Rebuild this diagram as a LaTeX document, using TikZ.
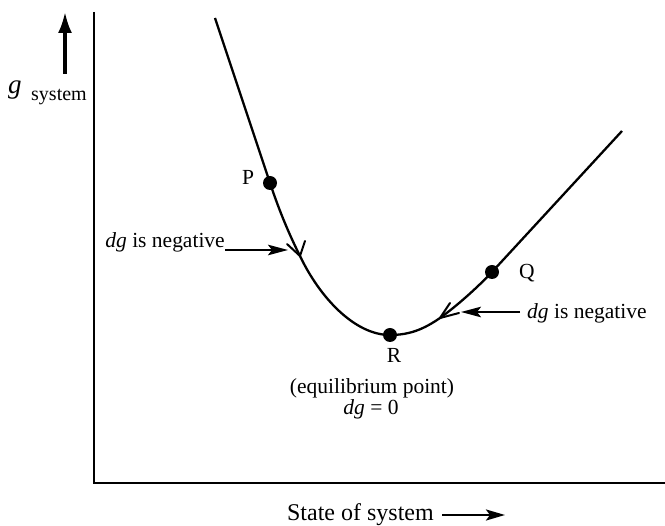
\documentclass[tikz,border=0pt]{standalone}
\usepackage{fontspec}
\setmainfont{Liberation Serif}
\usetikzlibrary{arrows.meta,calc}
\begin{document}
\begin{tikzpicture}[x=1pt,y=-1pt,
  axisline/.style={line width=1.6pt},
  curveline/.style={line width=2.3pt, line join=round},
  barbline/.style={line width=2pt, line join=miter, line cap=round},
  ptr/.style={line width=2.2pt,-{Stealth[length=20pt,width=10.5pt,inset=4pt]}},
  dot/.style={circle,fill,inner sep=0pt,minimum size=14pt},
  lab/.style={inner sep=0pt,font=\fontsize{21.5}{21.5}\selectfont},
]
\useasboundingbox (0,0) rectangle (665,526);
% axes
\coordinate (ytop) at (94,12);
\coordinate (orig) at (94,483);
\coordinate (xend) at (665,483);
\draw[axisline] (ytop) -- (orig) -- (xend);
% vertical axis arrow and label
\coordinate (ua1) at (65,74);
\coordinate (ua2) at (65,12);
\draw[line width=3.2pt,-{Latex[length=21pt,width=14pt]}] (ua1) -- (ua2);
\node[inner sep=0pt,anchor=base west,font=\fontsize{27}{27}\selectfont\itshape] (glab) at (8,94) {g};
\node[inner sep=0pt,anchor=base west,font=\fontsize{20}{20}\selectfont] (syslab) at (31,101) {system};
% curve
\coordinate (S) at (215,18);
\coordinate (pP) at (270,183);
\coordinate (A1) at (300,256);
\coordinate (pR) at (390,335);
\coordinate (A2) at (440,318);
\coordinate (pQ) at (492,272);
\coordinate (E) at (622,131);
\draw[curveline] (S) -- (pP) .. controls (280,213) and (290,236) .. (A1)
  .. controls (320,298) and (355,335) .. (pR)
  .. controls (410,335) and (424,329) .. (A2)
  .. controls (456,306.5) and (476,289) .. (pQ) -- (E);
% open arrowheads on the curve
\coordinate (b1a) at (287,244);
\coordinate (b1b) at (305,241);
\draw[barbline] (b1a) -- (A1) -- (b1b);
\coordinate (b2a) at (450,303);
\coordinate (b2b) at (459,313);
\draw[barbline] (b2a) -- (A2) -- (b2b);
% points
\node[dot] (P) at (pP) {};
\node[dot] (R) at (pR) {};
\node[dot] (Q) at (pQ) {};
\node[lab,anchor=base] (Plab) at (248,185) {P};
\node[lab,anchor=base] (Qlab) at (527,279) {Q};
\node[lab,anchor=base] (Rlab) at (394,363) {R};
% dg is negative labels
\node[lab,anchor=base east] (dgL) at (225,248) {\textit{dg} is negative};
\coordinate (ptrL) at (288,250);
\draw[ptr] (dgL.east |- ptrL) -- (ptrL);
\node[lab,anchor=base west,inner xsep=7pt] (dgR) at (520,319) {\textit{dg} is negative};
\coordinate (ptrR) at (461,312);
\draw[ptr] (dgR.west |- ptrR) -- (ptrR);
% equilibrium
\node[lab,anchor=base] (eq1) at (372,394) {(equilibrium point)};
\node[lab,anchor=base] (eq2) at (371,415) {\textit{dg} = 0};
% horizontal axis label
\node[inner sep=0pt,inner xsep=8pt,anchor=base east,font=\fontsize{24}{24}\selectfont] (state) at (442,521) {State of system};
\coordinate (stateTip) at (505,515);
\draw[line width=2.4pt,-{Stealth[length=19pt,width=11pt,inset=4pt]}] (state.east |- stateTip) -- (stateTip);
\end{tikzpicture}
\end{document}
